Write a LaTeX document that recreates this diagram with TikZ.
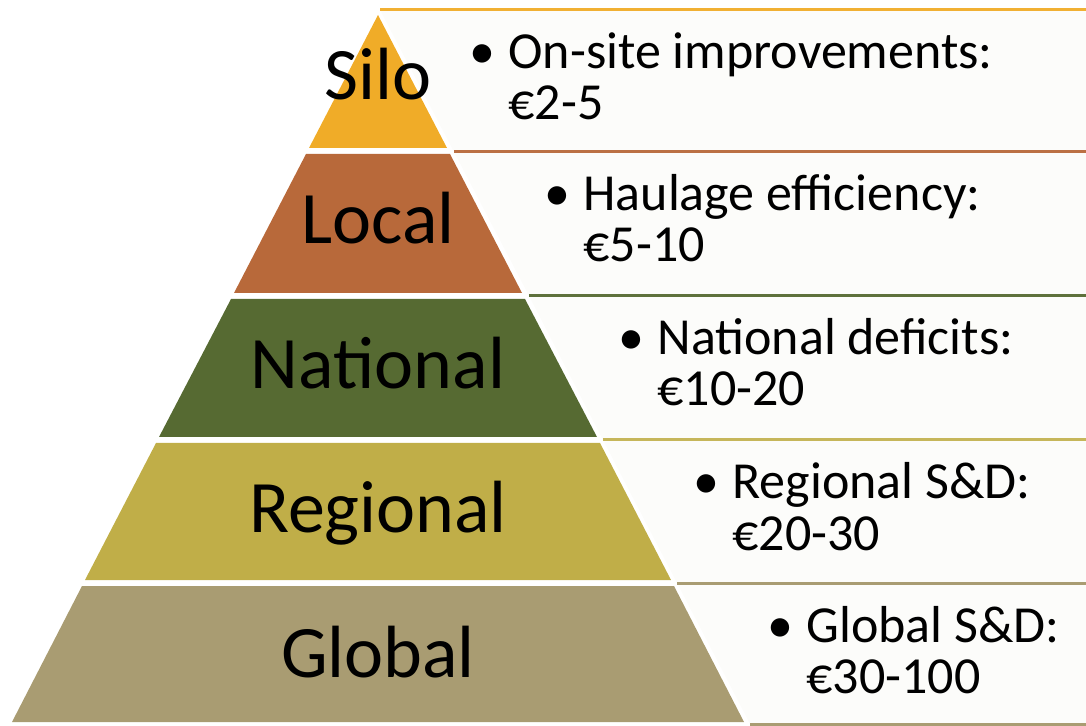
\documentclass[tikz,border=0pt]{standalone}
\usepackage{fontspec}
\setmainfont{Carlito}
\definecolor{silo}{HTML}{F0AC28}
\definecolor{local}{HTML}{B8693A}
\definecolor{national}{HTML}{566A32}
\definecolor{regional}{HTML}{C0AE48}
\definecolor{global}{HTML}{A99C72}
\definecolor{panelbg}{HTML}{FCFCFA}
\begin{document}
\begin{tikzpicture}[x=0.5pt, y=-0.5pt, panel/.style = {fill=panelbg}, rim/.style = {line width=1.5pt}, level/.style = {font=\fontsize{37}{40}\selectfont, inner sep=0, anchor=base}, item/.style = {font=\fontsize{26}{26}\selectfont, inner sep=0, anchor=base west}, dot/.style = {font=\fontsize{26}{26}\selectfont, inner sep=0, anchor=base}]
  \useasboundingbox (0, 0) rectangle (1086, 726);
  % pyramid layers
  \fill[silo] (378, 15) -- (447, 148) -- (309, 148) -- cycle;
  \fill[local] (306, 154) -- (450, 154) -- (522, 293) -- (234, 293) -- cycle;
  \fill[national] (231, 299) -- (525, 299) -- (597, 437) -- (159, 437) -- cycle;
  \fill[regional] (156, 443) -- (600, 443) -- (671, 580) -- (85, 580) -- cycle;
  \fill[global] (82, 586) -- (674, 586) -- (744, 722) -- (12, 722) -- cycle;
  % text panels
  \fill[panel] (380, 10) -- (1086, 10) -- (1086, 152) -- (454, 152) -- cycle;
  \fill[panel] (454, 152) -- (1086, 152) -- (1086, 296) -- (529, 296) -- cycle;
  \fill[panel] (529, 296) -- (1086, 296) -- (1086, 440) -- (603, 440) -- cycle;
  \fill[panel] (603, 440) -- (1086, 440) -- (1086, 583) -- (677, 583) -- cycle;
  \fill[panel] (677, 583) -- (1086, 583) -- (1086, 724) -- (750, 724) -- cycle;
  \coordinate (r0) at (380, 10);
  \coordinate (r1) at (454, 152);
  \coordinate (r2) at (529, 296);
  \coordinate (r3) at (603, 440);
  \coordinate (r4) at (677, 583);
  \coordinate (r5) at (750, 724);
  \draw[rim, silo!95!white] (r0) -- (r0 -| 1086, 0);
  \draw[rim, local!95!white] (r1) -- (r1 -| 1086, 0);
  \draw[rim, national!95!white] (r2) -- (r2 -| 1086, 0);
  \draw[rim, regional!90!white] (r3) -- (r3 -| 1086, 0);
  \draw[rim, global] (r4) -- (r4 -| 1086, 0);
  \draw[rim, global] (r5) -- (r5 -| 1086, 0);
  % level names
  \node[level] at (378, 100) (silo-name) {Silo};
  \node[level] at (378, 244) (local-name) {Local};
  \node[level] at (378, 389) (national-name) {National};
  \node[level] at (378, 532) (regional-name) {Regional};
  \node[level] at (378, 677) (global-name) {Global};
  % costs
  \node[dot] at (482, 69) (silo-dot) {•};
  \node[item] at (508, 69) (silo-head) {On-site improvements:};
  \node[item] at (508, 120) (silo-cost) {€2-5};
  \node[dot] at (557, 211) (local-dot) {•};
  \node[item] at (583, 211) (local-head) {Haulage efficiency:};
  \node[item] at (583, 262) (local-cost) {€5-10};
  \node[dot] at (631, 355) (national-dot) {•};
  \node[item] at (657, 355) (national-head) {National deficits:};
  \node[item] at (657, 406) (national-cost) {€10-20};
  \node[dot] at (706, 499) (regional-dot) {•};
  \node[item] at (732, 499) (regional-head) {Regional S\&D:};
  \node[item] at (732, 550) (regional-cost) {€20-30};
  \node[dot] at (780, 642) (global-dot) {•};
  \node[item] at (806, 642) (global-head) {Global S\&D:};
  \node[item] at (806, 693) (global-cost) {€30-100};
\end{tikzpicture}
\end{document}
